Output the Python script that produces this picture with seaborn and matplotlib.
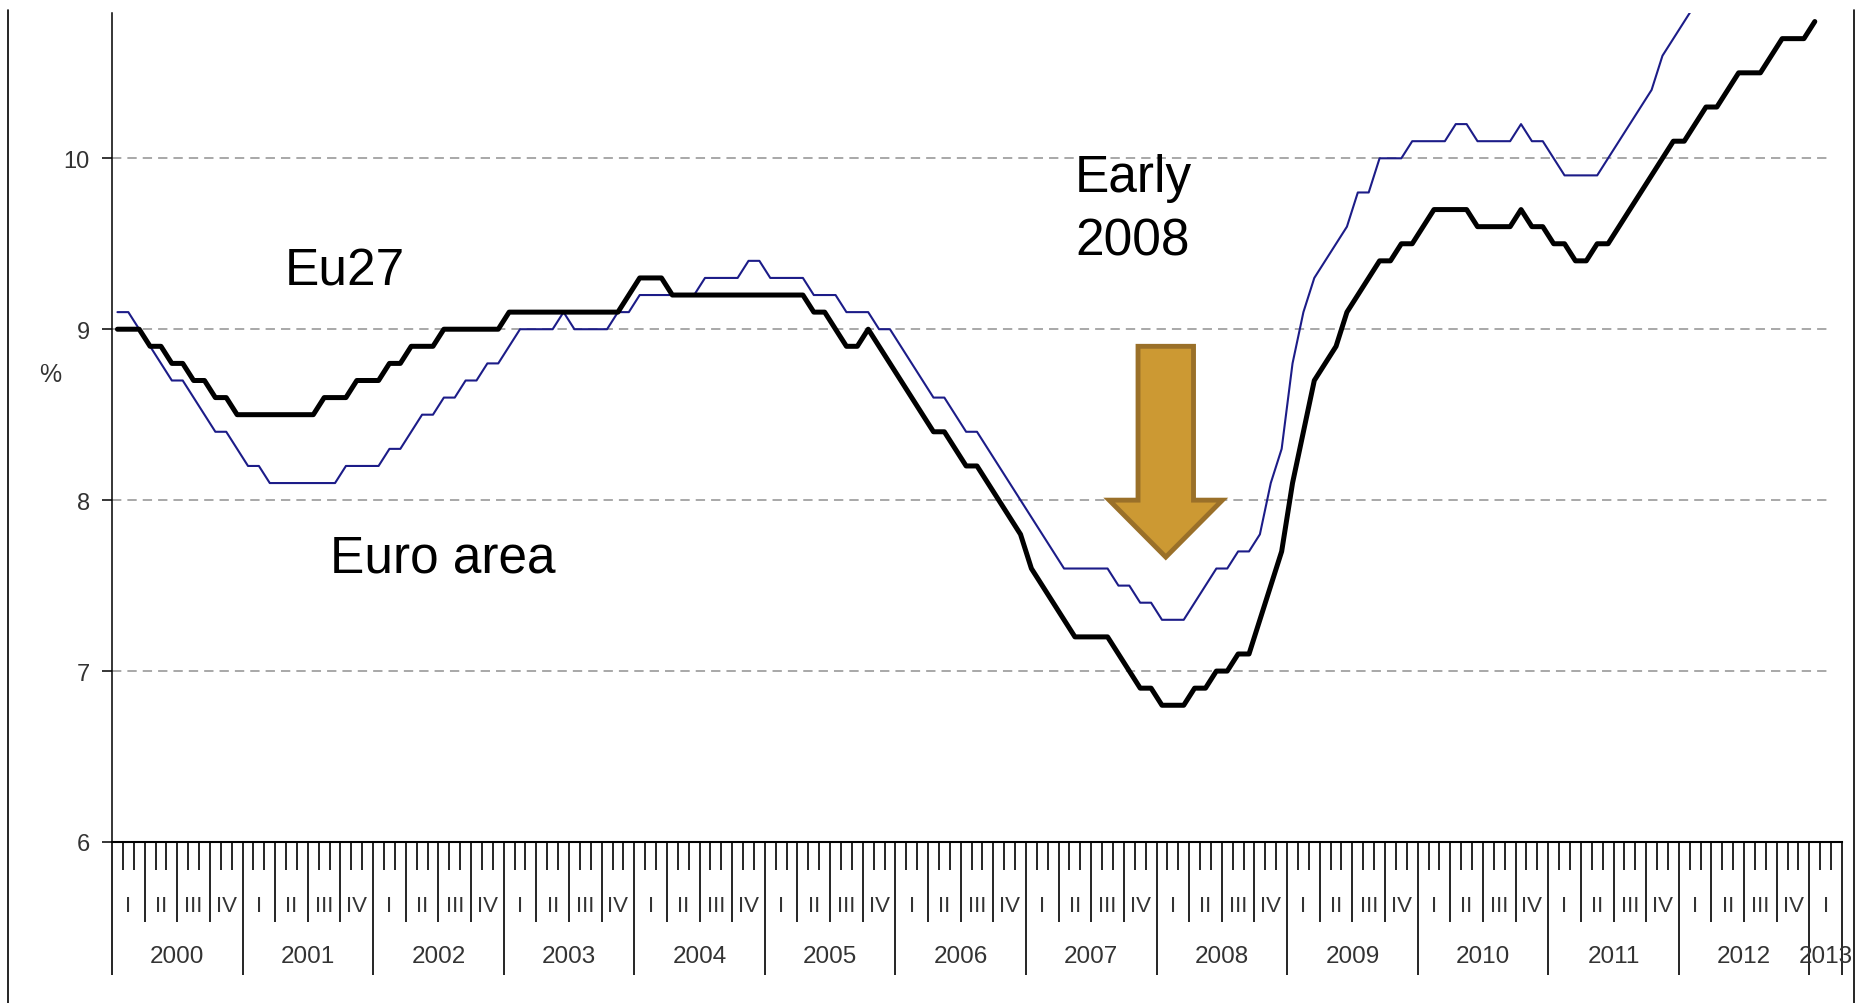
import numpy as np
import pandas as pd
import matplotlib
matplotlib.use('Agg')
import matplotlib.pyplot as plt
import seaborn as sns
from matplotlib.patches import FancyArrow
from matplotlib.lines import Line2D

# Monthly unemployment rate (%), Jan 2000 - Jan 2013
months = pd.period_range('2000-01', '2013-01', freq='M').astype(str)

eu27 = [
    9.0, 9.0, 9.0, 8.9, 8.9, 8.8, 8.8, 8.7, 8.7, 8.6, 8.6, 8.5,        # 2000
    8.5, 8.5, 8.5, 8.5, 8.5, 8.5, 8.5, 8.6, 8.6, 8.6, 8.7, 8.7,        # 2001
    8.7, 8.8, 8.8, 8.9, 8.9, 8.9, 9.0, 9.0, 9.0, 9.0, 9.0, 9.0,        # 2002
    9.1, 9.1, 9.1, 9.1, 9.1, 9.1, 9.1, 9.1, 9.1, 9.1, 9.1, 9.2,        # 2003
    9.3, 9.3, 9.3, 9.2, 9.2, 9.2, 9.2, 9.2, 9.2, 9.2, 9.2, 9.2,        # 2004
    9.2, 9.2, 9.2, 9.2, 9.1, 9.1, 9.0, 8.9, 8.9, 9.0, 8.9, 8.8,        # 2005
    8.7, 8.6, 8.5, 8.4, 8.4, 8.3, 8.2, 8.2, 8.1, 8.0, 7.9, 7.8,        # 2006
    7.6, 7.5, 7.4, 7.3, 7.2, 7.2, 7.2, 7.2, 7.1, 7.0, 6.9, 6.9,        # 2007
    6.8, 6.8, 6.8, 6.9, 6.9, 7.0, 7.0, 7.1, 7.1, 7.3, 7.5, 7.7,        # 2008
    8.1, 8.4, 8.7, 8.8, 8.9, 9.1, 9.2, 9.3, 9.4, 9.4, 9.5, 9.5,        # 2009
    9.6, 9.7, 9.7, 9.7, 9.7, 9.6, 9.6, 9.6, 9.6, 9.7, 9.6, 9.6,        # 2010
    9.5, 9.5, 9.4, 9.4, 9.5, 9.5, 9.6, 9.7, 9.8, 9.9, 10.0, 10.1,      # 2011
    10.1, 10.2, 10.3, 10.3, 10.4, 10.5, 10.5, 10.5, 10.6, 10.7, 10.7, 10.7,  # 2012
    10.8,                                                              # 2013
]

euro_area = [
    9.1, 9.1, 9.0, 8.9, 8.8, 8.7, 8.7, 8.6, 8.5, 8.4, 8.4, 8.3,        # 2000
    8.2, 8.2, 8.1, 8.1, 8.1, 8.1, 8.1, 8.1, 8.1, 8.2, 8.2, 8.2,        # 2001
    8.2, 8.3, 8.3, 8.4, 8.5, 8.5, 8.6, 8.6, 8.7, 8.7, 8.8, 8.8,        # 2002
    8.9, 9.0, 9.0, 9.0, 9.0, 9.1, 9.0, 9.0, 9.0, 9.0, 9.1, 9.1,        # 2003
    9.2, 9.2, 9.2, 9.2, 9.2, 9.2, 9.3, 9.3, 9.3, 9.3, 9.4, 9.4,        # 2004
    9.3, 9.3, 9.3, 9.3, 9.2, 9.2, 9.2, 9.1, 9.1, 9.1, 9.0, 9.0,        # 2005
    8.9, 8.8, 8.7, 8.6, 8.6, 8.5, 8.4, 8.4, 8.3, 8.2, 8.1, 8.0,        # 2006
    7.9, 7.8, 7.7, 7.6, 7.6, 7.6, 7.6, 7.6, 7.5, 7.5, 7.4, 7.4,        # 2007
    7.3, 7.3, 7.3, 7.4, 7.5, 7.6, 7.6, 7.7, 7.7, 7.8, 8.1, 8.3,        # 2008
    8.8, 9.1, 9.3, 9.4, 9.5, 9.6, 9.8, 9.8, 10.0, 10.0, 10.0, 10.1,    # 2009
    10.1, 10.1, 10.1, 10.2, 10.2, 10.1, 10.1, 10.1, 10.1, 10.2, 10.1, 10.1,  # 2010
    10.0, 9.9, 9.9, 9.9, 9.9, 10.0, 10.1, 10.2, 10.3, 10.4, 10.6, 10.7,  # 2011
    10.8, 10.9, 11.0, 11.0, 11.1, 11.2, 11.3, 11.4, 11.5, 11.6, 11.7, 11.7,  # 2012
    11.8,                                                              # 2013
]

years = [str(y) for y in range(2000, 2014)]
quarters = ['I', 'II', 'III', 'IV']
n_slots = 159          # month slots shown on the axis (Jan 2000 .. Mar 2013)

df = pd.DataFrame({'month': np.arange(len(months)) + 0.5,
                   'Eu27': eu27, 'Euro area': euro_area})

# Style
sns.set_style('white')
plt.rcParams['font.family'] = ['Liberation Sans', 'DejaVu Sans']

fig = plt.figure(figsize=(18.63, 10.04), dpi=100)
ax = fig.add_axes([112 / 1863, 1 - 843 / 1004, 1730 / 1863, 829 / 1004])

# dashed grid
for v in [7, 8, 9, 10]:
    ax.axhline(v, xmax=0.9936, color='#a8a8a8', lw=1.4,
               ls=(0, (4.8, 3.1)), zorder=0)

sns.lineplot(data=df, x='month', y='Euro area', color='#1c1c88', lw=1.5,
             estimator=None, ax=ax, zorder=3)
sns.lineplot(data=df, x='month', y='Eu27', color='black', lw=3.6,
             estimator=None, ax=ax, zorder=4)

ax.set_xlim(0, n_slots)
ax.set_ylim(6, 10.85)
ax.set_xlabel('')
ax.set_ylabel('')

for s in ['top', 'right']:
    ax.spines[s].set_visible(False)
ax.spines['left'].set_linewidth(1.1)
ax.spines['left'].set_color('black')
ax.spines['bottom'].set_linewidth(1.5)
ax.spines['bottom'].set_color('black')

ax.set_yticks([6, 7, 8, 9, 10])
ax.set_yticklabels(['6', '7', '8', '9', '10'])
ax.tick_params(axis='y', left=True, length=7, width=1.1, color='black',
               labelsize=17, labelcolor='#333333', pad=9)
ax.set_xticks([])

ax.text(-0.0358, 8.737, '%', transform=ax.get_yaxis_transform(),
        fontsize=18, color='#333333', ha='center', va='center')

# ── month / quarter / year tick system below the axis ──
tr = ax.get_xaxis_transform()
ax_h = 829.0
b = np.arange(0, n_slots + 1)
depth = np.where((b % 12 == 0) | (b == n_slots), 133,
                 np.where(b % 3 == 0, 80, 28)) / ax_h
ax.vlines(b, -depth, 0, transform=tr, clip_on=False,
          color='black', lw=1.2)

for q in range(n_slots // 3):
    ax.text(3 * q + 1.5, -63 / ax_h, quarters[q % 4], transform=tr,
            ha='center', va='center', fontsize=16, color='#333333')

for i, y in enumerate(years):
    start = 12 * i
    end = min(start + 12, n_slots)
    ax.text((start + end) / 2, -114 / ax_h, y, transform=tr,
            ha='center', va='center', fontsize=17.5, color='#333333')

# annotations
ax.text(15.9, 9.263, 'Eu27', fontsize=37, va='baseline', color='black')
ax.text(20.0, 7.585, 'Euro area', fontsize=37, va='baseline', color='black')
ax.text(88.5, 9.807, 'Early', fontsize=37, va='baseline', color='black')
ax.text(88.5, 9.44, '2008', fontsize=37, va='baseline', color='black')

arrow = FancyArrow(96.85, 8.90, 0, -1.233, width=5.1, head_width=10.4,
                   head_length=0.333, length_includes_head=True,
                   fc='#CC9933', ec='#9A7029', lw=3.5, zorder=5)
ax.add_patch(arrow)

# outer frame lines (left and right)
for xf in [8 / 1863, 1854 / 1863]:
    fig.add_artist(Line2D([xf, xf], [0, 1 - 11 / 1004], transform=fig.transFigure,
                          color='black', lw=1.2))

plt.savefig('out.png', dpi=100)
